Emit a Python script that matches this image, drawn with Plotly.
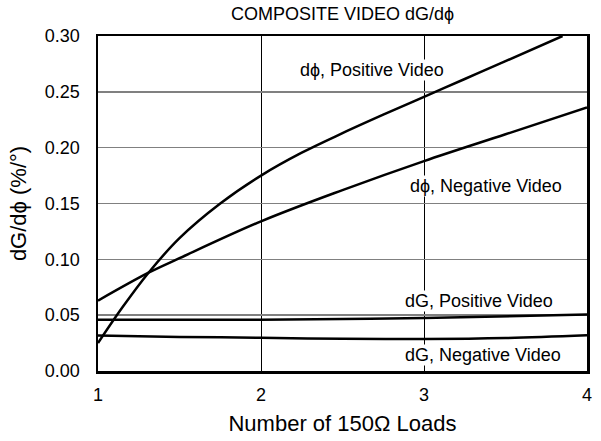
import plotly.graph_objects as go

# dphi, Positive Video
x_dp_pos = [1.0, 1.15, 1.31, 1.5, 1.75, 2.0, 2.25, 2.5, 2.75, 3.0, 3.25, 3.5, 3.85]
y_dp_pos = [0.025, 0.057, 0.088, 0.119, 0.150, 0.175, 0.1955, 0.213, 0.2295, 0.2455, 0.2615, 0.2775, 0.300]
# dphi, Negative Video
x_dp_neg = [1.0, 1.31, 1.5, 2.0, 2.5, 3.0, 3.5, 4.0]
y_dp_neg = [0.063, 0.088, 0.101, 0.134, 0.162, 0.188, 0.212, 0.236]
# dG, Positive Video
x_dg_pos = [1.0, 2.0, 3.0, 4.0]
y_dg_pos = [0.046, 0.046, 0.0475, 0.0505]
# dG, Negative Video
x_dg_neg = [1.0, 1.5, 2.0, 2.5, 3.0, 3.5, 4.0]
y_dg_neg = [0.0318, 0.0305, 0.0298, 0.0288, 0.0286, 0.0295, 0.032]

labels = ["dϕ, Positive Video", "dϕ, Negative Video", "dG, Positive Video", "dG, Negative Video"]
label_x = [2.68, 3.38, 3.34, 3.36]
label_y = [0.270, 0.166, 0.0627, 0.0147]

x_ticks = [1, 2, 3, 4]
y_ticks = [0.00, 0.05, 0.10, 0.15, 0.20, 0.25, 0.30]

FONT = "Liberation Sans, Arial, Helvetica, sans-serif"
W, H = 601, 441

fig = go.Figure()
for xs, ys in [(x_dp_pos, y_dp_pos), (x_dp_neg, y_dp_neg), (x_dg_pos, y_dg_pos), (x_dg_neg, y_dg_neg)]:
    fig.add_trace(go.Scatter(x=xs, y=ys, mode="lines", line=dict(color="black", width=2.5, shape="spline"),
                             showlegend=False, hoverinfo="skip"))

for t, lx, ly in zip(labels, label_x, label_y):
    fig.add_annotation(x=lx, y=ly, text=t, showarrow=False, bgcolor="white", borderpad=0,
                       font=dict(family=FONT, size=18, color="black"))

fig.update_layout(
    width=W, height=H,
    margin=dict(l=97.5, r=9, t=36, b=67.5),
    paper_bgcolor="white", plot_bgcolor="white",
    font=dict(family=FONT, size=18, color="black"),
    title=dict(text="COMPOSITE VIDEO dG/dϕ", x=0.5, xref="paper", xanchor="center",
               y=1 - 14 / H, yref="container", yanchor="middle", font=dict(size=18)),
    xaxis=dict(range=[1, 4], tickvals=x_ticks, ticktext=[str(v) for v in x_ticks],
               showgrid=True, gridcolor="black", gridwidth=1, zeroline=False,
               showline=True, linecolor="black", linewidth=2.5, mirror=True, ticks="",
               title=dict(text="Number of 150Ω Loads", standoff=12), ticklabelstandoff=6),
    yaxis=dict(range=[0, 0.30], tickvals=y_ticks, ticktext=[f"{v:.2f}" for v in y_ticks],
               showgrid=True, gridcolor="#808080", gridwidth=1.5, zeroline=False,
               showline=True, linecolor="black", linewidth=2.5, mirror=True, ticks="",
               title=dict(text="dG/dϕ (%/°)", standoff=12), ticklabelstandoff=12),
    hovermode=False,
)
fig.write_html("out.html", config={"displayModeBar": False, "staticPlot": True},
               post_script="document.body.style.margin='0';")
